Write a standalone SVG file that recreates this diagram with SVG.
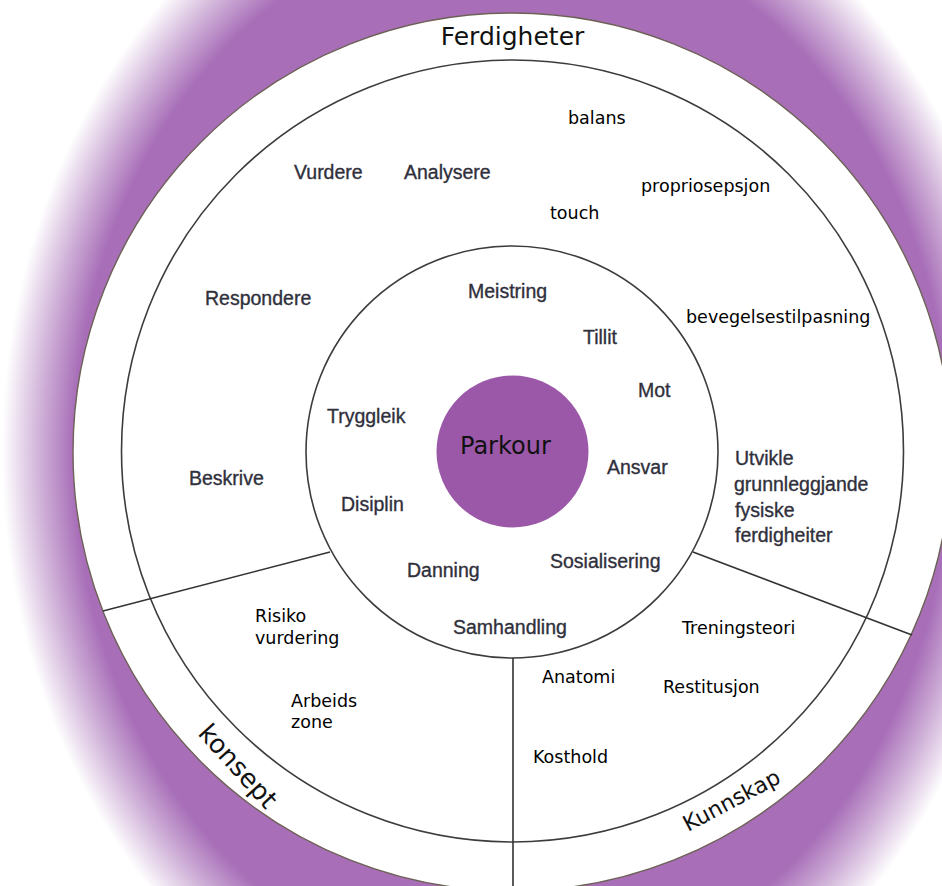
<svg xmlns="http://www.w3.org/2000/svg" width="942" height="886" viewBox="0 0 942 886">
  <defs>
    <radialGradient id="halo" gradientUnits="userSpaceOnUse" cx="512" cy="452" r="510" gradientTransform="translate(512 452) scale(1 1.216) translate(-512 -452)">
      <stop offset="0" stop-color="#a86fb8"/>
      <stop offset="0.86" stop-color="#a86fb8"/>
      <stop offset="0.93" stop-color="#d2b5da"/>
      <stop offset="1" stop-color="#ffffff"/>
    </radialGradient>
  </defs>
  <style>
    .ring { fill: none; stroke: #3c3c3c; stroke-width: 1.6; }
    .div { stroke: #333333; stroke-width: 1.6; fill: none; }
    .old { font-family: "Liberation Sans", Arial, sans-serif; font-size: 19.5px; fill: #30303c; stroke: #30303c; stroke-width: 0.35; }
    .new { font-family: "DejaVu Sans", sans-serif; font-size: 17.5px; fill: #000000; }
    .title { font-family: "DejaVu Sans", sans-serif; fill: #111111; }
  </style>

  <rect x="0" y="0" width="942" height="886" fill="#ffffff"/>
  <rect x="0" y="0" width="942" height="886" fill="url(#halo)"/>

  <g id="outer-ring">
    <circle cx="512" cy="452" r="439" fill="#ffffff" stroke="#6e6258" stroke-width="1.4"/>
  </g>
  <g id="middle-ring">
    <circle class="ring" cx="512.5" cy="451" r="391"/>
  </g>
  <g id="inner-ring">
    <circle class="ring" cx="512" cy="452" r="206"/>
  </g>

  <g id="connectors">
    <line class="div" x1="330" y1="552" x2="103" y2="611"/>
    <line class="div" x1="693" y1="552" x2="912" y2="635"/>
    <line class="div" x1="513" y1="658" x2="513" y2="886" stroke="#222222"/>
  </g>

  <g id="parkour">
    <circle cx="512.5" cy="451.5" r="76" fill="#9c58a8"/>
    <text class="title" x="460" y="454" font-size="24" fill="#2a1830">Parkour</text>
  </g>

  <g id="label-ferdigheter"><text class="title" x="512.5" y="45" font-size="25" text-anchor="middle">Ferdigheter</text></g>
  <g id="label-konsept"><text class="title" font-size="26" transform="translate(197 734) rotate(48)">konsept</text></g>
  <g id="label-kunnskap"><text class="title" font-size="22" transform="translate(688 832) rotate(-28)">Kunnskap</text></g>

  <g id="node-balans"><text class="new" x="568" y="124">balans</text></g>
  <g id="node-vurdere"><text class="old" x="294" y="179">Vurdere</text></g>
  <g id="node-analysere"><text class="old" x="404" y="179">Analysere</text></g>
  <g id="node-propriosepsjon"><text class="new" x="641" y="192">propriosepsjon</text></g>
  <g id="node-touch"><text class="new" x="550" y="219">touch</text></g>
  <g id="node-meistring"><text class="old" x="468" y="298">Meistring</text></g>
  <g id="node-respondere"><text class="old" x="205" y="305">Respondere</text></g>
  <g id="node-bevegelsestilpasning"><text class="new" x="686" y="323">bevegelsestilpasning</text></g>
  <g id="node-tillit"><text class="old" x="583" y="344">Tillit</text></g>
  <g id="node-mot"><text class="old" x="638" y="397">Mot</text></g>
  <g id="node-tryggleik"><text class="old" x="327" y="423">Tryggleik</text></g>
  <g id="node-ansvar"><text class="old" x="607" y="474">Ansvar</text></g>
  <g id="node-utvikle">
    <text class="old" x="735" y="465">Utvikle</text>
    <text class="old" x="734" y="491">grunnleggjande</text>
    <text class="old" x="735" y="517">fysiske</text>
    <text class="old" x="735" y="542">ferdigheiter</text>
  </g>
  <g id="node-beskrive"><text class="old" x="189" y="485">Beskrive</text></g>
  <g id="node-disiplin"><text class="old" x="341" y="511">Disiplin</text></g>
  <g id="node-danning"><text class="old" x="407" y="577">Danning</text></g>
  <g id="node-sosialisering"><text class="old" x="550" y="568">Sosialisering</text></g>
  <g id="node-samhandling"><text class="old" x="453" y="634">Samhandling</text></g>
  <g id="node-risiko">
    <text class="new" x="255" y="622">Risiko</text>
    <text class="new" x="255" y="644">vurdering</text>
  </g>
  <g id="node-treningsteori"><text class="new" x="682" y="634">Treningsteori</text></g>
  <g id="node-anatomi"><text class="new" x="542" y="683">Anatomi</text></g>
  <g id="node-restitusjon"><text class="new" x="663" y="693">Restitusjon</text></g>
  <g id="node-arbeids">
    <text class="new" x="291" y="707">Arbeids</text>
    <text class="new" x="291" y="728">zone</text>
  </g>
  <g id="node-kosthold"><text class="new" x="533" y="763">Kosthold</text></g>
</svg>
